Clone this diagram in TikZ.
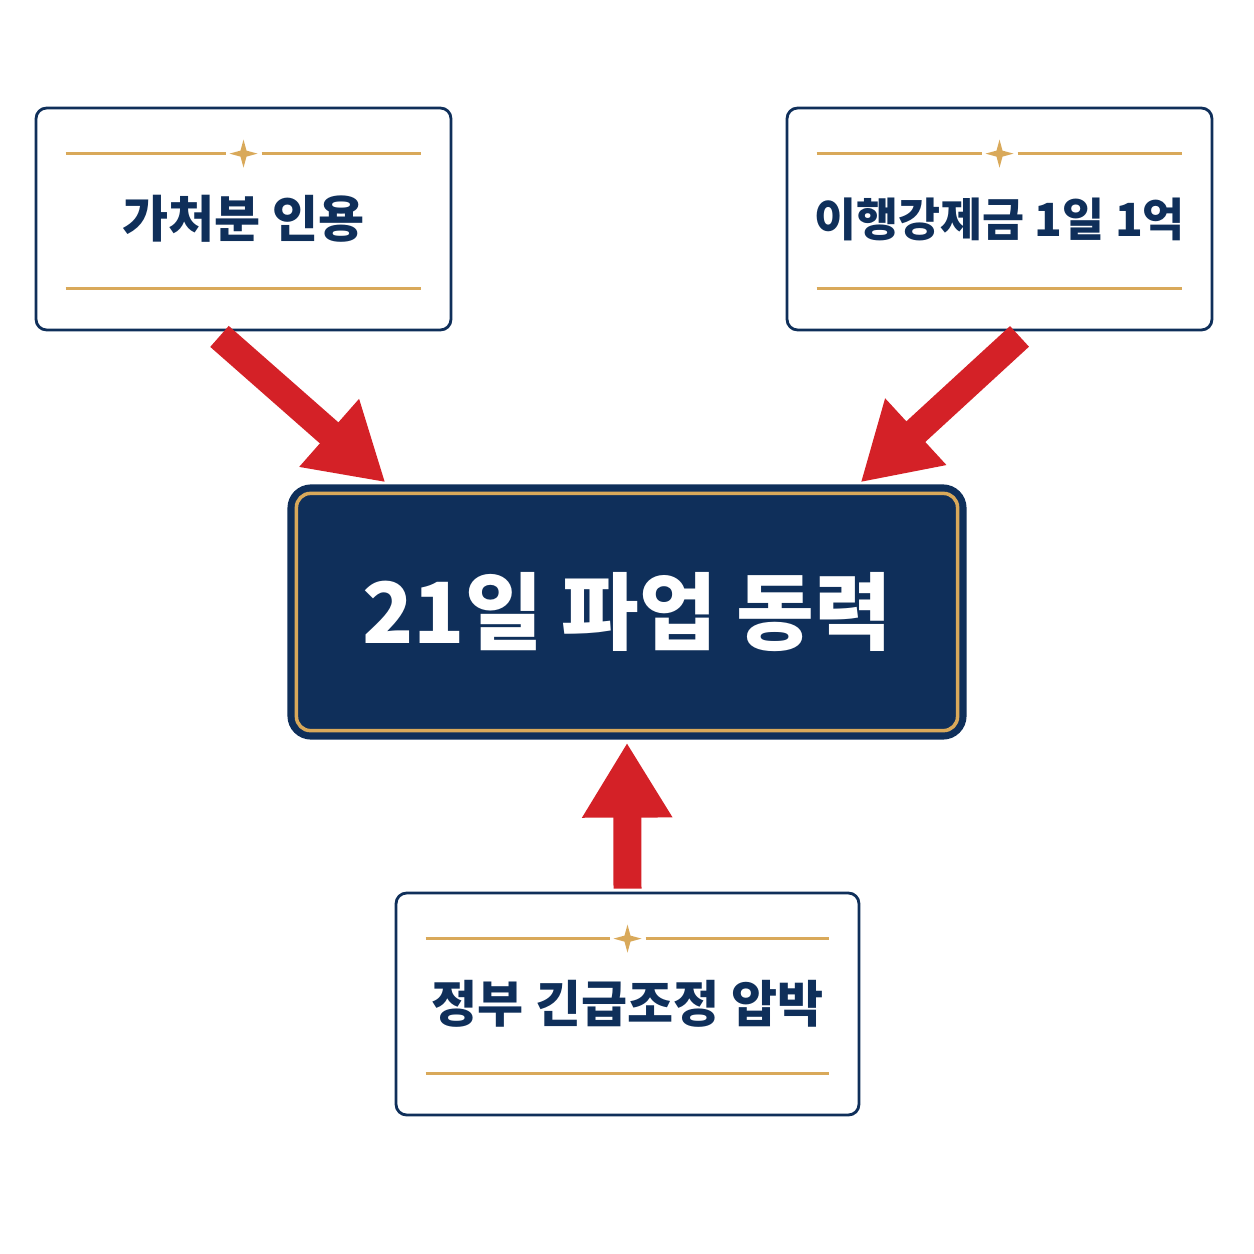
\documentclass[tikz,border=0pt]{standalone}
\usepackage{fontspec}
\setmainfont{Noto Sans CJK KR}
\usetikzlibrary{calc}
\usetikzlibrary{arrows.meta}
\definecolor{navy}{HTML}{0F2F5A}
\definecolor{gold}{HTML}{D9A95A}
\definecolor{arrowred}{HTML}{D42127}
\tikzset{
  card/.style={draw=navy, line width=1.6pt, fill=white, rounded corners=6pt,
    minimum width=8.3cm, minimum height=4.44cm, inner sep=0pt,
    font=\bfseries\fontsize{28.5}{32}\selectfont, text=navy},
  hub/.style={draw=navy, line width=3pt, fill=navy, rounded corners=12pt,
    minimum width=13.48cm, minimum height=5cm, inner sep=0pt,
    font=\bfseries\fontsize{48}{54}\selectfont, text=white},
  push/.style={draw=arrowred, line width=0.56cm,
    -{Triangle[width=1.7cm,length=1.5cm]}},
}
\newcommand\cardtrim[1]{%
  \draw [gold, line width=1.3pt] ($ (#1.north west)+(31,47) $) -- ($ (#1.north)+(-18,47) $);
  \draw [gold, line width=1.3pt] ($ (#1.north)+(18,47) $) -- ($ (#1.north east)+(-31,47) $);
  \draw [gold, line width=1.3pt] ($ (#1.south west)+(31,-43) $) -- ($ (#1.south east)+(-31,-43) $);
  \fill [gold] ($ (#1.north)+(0,33) $) -- ($ (#1.north)+(3,44) $) -- ($ (#1.north)+(14,47) $)
    -- ($ (#1.north)+(3,50) $) -- ($ (#1.north)+(0,61) $) -- ($ (#1.north)+(-3,50) $)
    -- ($ (#1.north)+(-14,47) $) -- ($ (#1.north)+(-3,44) $) -- cycle;
}
\begin{document}
\begin{tikzpicture}[x=0.02cm,y=-0.02cm]
  \useasboundingbox [fill=white] (0,0) rectangle (1254,1254);

  \node [hub] (power) at (627,612) {21일 파업 동력};
  \draw [gold, line width=2pt, rounded corners=8pt]
    ($ (power.north west)+(9,9) $) rectangle ($ (power.south east)+(-9,-9) $);

  \node [card] (court) at (243.5,219) {가처분 인용};
  \node [card, minimum width=8.5cm, font=\bfseries\fontsize{26}{30}\selectfont]
    (fine) at (999.5,219) {이행강제금 1일 1억};
  \node [card, minimum width=9.26cm] (govt) at (627.5,1004) {정부 긴급조정 압박};

  \cardtrim{court}
  \cardtrim{fine}
  \cardtrim{govt}

  \coordinate (courtfoot) at ($ (court.south)+(-24,5) $);
  \coordinate (finefoot) at ($ (fine.south)+(20,5) $);
  \coordinate (govtfoot) at ($ (govt.north)+(0,-3) $);
  \coordinate (hubleft) at ($ (power.north west)+(98,-2) $);
  \coordinate (hubright) at ($ (power.north east)+(-106,-2) $);
  \coordinate (hubfoot) at ($ (power.south)+(0,3) $);

  \draw [push] (courtfoot) -- (hubleft);
  \draw [push] (finefoot) -- (hubright);
  \draw [push] (govtfoot) -- (hubfoot);
\end{tikzpicture}
\end{document}
